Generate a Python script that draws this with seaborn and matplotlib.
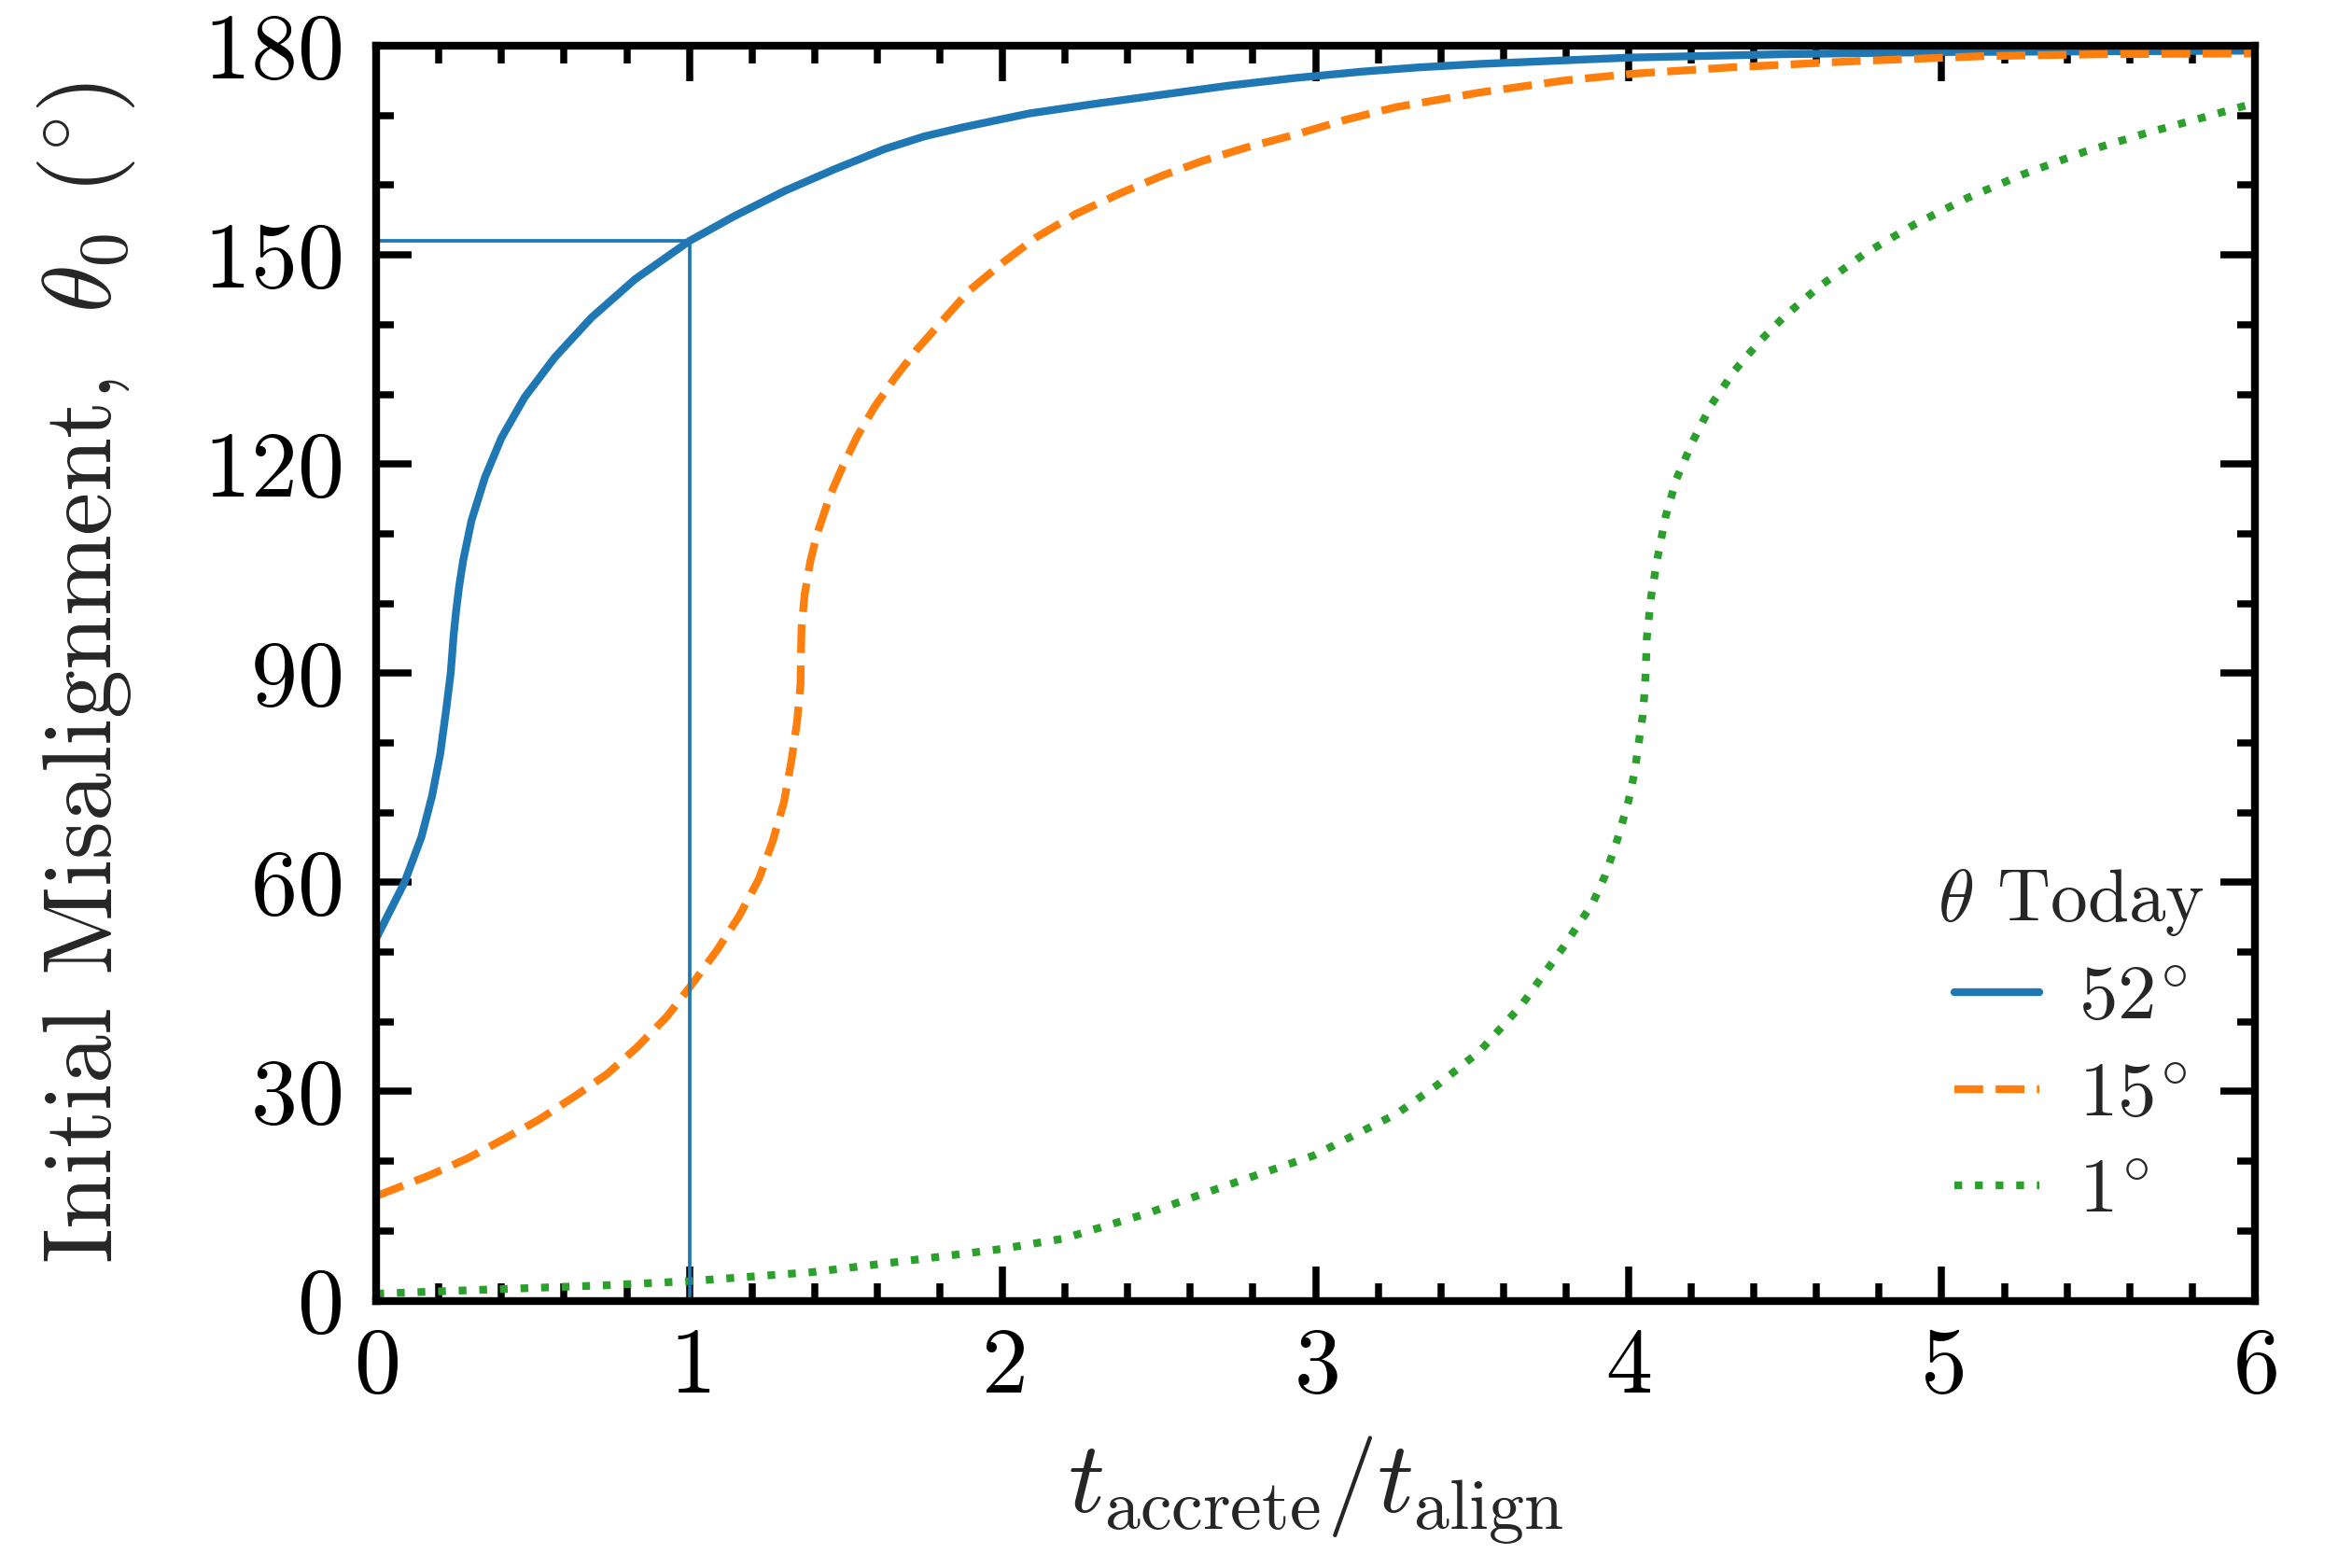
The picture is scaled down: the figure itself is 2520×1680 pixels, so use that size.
import matplotlib
matplotlib.use("Agg")
import matplotlib.pyplot as plt
import pandas as pd
import seaborn as sns
from matplotlib.ticker import MultipleLocator

# values
t_52 = [0.0, 0.045, 0.09, 0.144, 0.178, 0.204, 0.222, 0.232, 0.2375, 0.241,
        0.247, 0.255, 0.265, 0.2775, 0.304, 0.347, 0.400, 0.474, 0.570, 0.687,
        0.826, 1.0, 1.145, 1.305, 1.464, 1.624, 1.750, 1.873, 2.086, 2.299,
        2.512, 2.725, 2.938, 3.150, 3.329, 3.526, 4.0, 4.5, 5.0, 5.5, 6.0]
theta_52 = [52, 56, 60, 66.5, 72.4, 78.4, 84.4, 88.0, 90.0, 92.0,
            95.5, 99.0, 102.6, 106.2, 111.9, 118.1, 123.8, 129.6, 135.3, 141.0,
            146.5, 152.0, 155.6, 159.2, 162.3, 165.2, 167.0, 168.3, 170.3, 171.7,
            173.0, 174.3, 175.4, 176.3, 176.9, 177.4, 178.3, 178.8, 179.1, 179.2, 179.3]

t_15 = [0.0, 0.171, 0.291, 0.404, 0.517, 0.630, 0.737, 0.834, 0.929, 1.0,
        1.087, 1.158, 1.222, 1.266, 1.302, 1.326, 1.344, 1.355, 1.356, 1.358,
        1.368, 1.386, 1.408, 1.45, 1.49, 1.535, 1.59, 1.655, 1.724, 1.799,
        1.894, 2.001, 2.107, 2.235, 2.384, 2.512, 2.640, 2.778, 2.938, 3.097,
        3.257, 3.525, 3.791, 4.015, 4.325, 4.724, 5.123, 5.522, 6.0]
theta_15 = [15.0, 18.0, 20.4, 23.1, 25.9, 29.2, 32.5, 36.4, 40.8, 44.9,
            50.2, 55.1, 60.5, 65.9, 71.5, 77.5, 83.1, 88.5, 92.0, 96.5,
            101.3, 106.0, 110.0, 115.6, 119.7, 123.9, 128.1, 132.3, 136.3, 140.1,
            144.9, 148.9, 152.5, 155.9, 159.0, 161.4, 163.5, 165.4, 167.3, 169.4,
            171.2, 173.3, 175.0, 176.0, 176.9, 177.8, 178.5, 178.8, 178.9]

t_1 = [0.0, 0.331, 0.73, 1.0, 1.395, 1.728, 1.994, 2.195, 2.461, 2.727,
       2.993, 3.259, 3.391, 3.525, 3.658, 3.791, 3.885, 3.925, 3.965, 3.999,
       4.019, 4.032, 4.045, 4.052, 4.055, 4.058, 4.072, 4.092, 4.118, 4.152,
       4.205, 4.265, 4.338, 4.418, 4.498, 4.604, 4.751, 4.910, 5.083, 5.256,
       5.456, 5.655, 5.842, 6.0]
theta_1 = [1.0, 1.55, 2.2, 2.8, 4.1, 5.9, 7.4, 8.9, 12.5, 16.7,
           20.8, 26.8, 31.0, 35.8, 42.4, 50.7, 57.0, 61.0, 66.3, 71.6,
           75.8, 80.0, 84.0, 88.0, 91.0, 95.1, 101.1, 106.5, 112.5, 117.8,
           123.3, 128.6, 133.4, 137.6, 141.2, 145.3, 150.1, 154.3, 158.2, 161.5,
           164.8, 167.5, 169.8, 171.8]

labels = [r"$52^{\!\circ}$", r"$15^{\!\circ}$", r"$1^{\!\circ}$"]
colors = ["#1f77b4", "#ff7f0e", "#2ca02c"]
styles = ["-", "--", ":"]

# marked point on the 52 deg curve
ref_t = 1.0
ref_theta = 152.0

sns.set_theme(style="ticks")
plt.rcParams["font.family"] = "serif"
plt.rcParams["font.serif"] = ["cmr10"]
plt.rcParams["mathtext.fontset"] = "cm"
plt.rcParams["axes.formatter.use_mathtext"] = True
plt.rcParams["axes.unicode_minus"] = False

fig, ax = plt.subplots(figsize=(8.4, 5.6), dpi=300)
fig.subplots_adjust(left=0.160, right=0.9587, top=0.9708, bottom=0.1705)

series = [(t_52, theta_52), (t_15, theta_15), (t_1, theta_1)]
for (tt, th), lab, col, ls in zip(series, labels, colors, styles):
    df = pd.DataFrame({"t": tt, "theta": th})
    sns.lineplot(data=df, x="t", y="theta", ax=ax, color=col, linestyle=ls,
                 linewidth=2.0, label=lab, estimator=None, sort=False)

ax.hlines(ref_theta, 0, ref_t, color=colors[0], linewidth=0.9)
ax.vlines(ref_t, 0, ref_theta, color=colors[0], linewidth=0.9)

ax.set_xlim(0, 6)
ax.set_ylim(0, 180)
ax.xaxis.set_major_locator(MultipleLocator(1))
ax.xaxis.set_minor_locator(MultipleLocator(0.2))
ax.yaxis.set_major_locator(MultipleLocator(30))
ax.yaxis.set_minor_locator(MultipleLocator(10))

for s in ax.spines.values():
    s.set_linewidth(2.0)
    s.set_color("black")
ax.tick_params(which="both", direction="in", top=True, right=True,
               width=1.8, colors="black")
ax.tick_params(which="major", length=9, labelsize=24)
ax.tick_params(axis="x", which="major", pad=7)
ax.tick_params(axis="y", which="major", pad=9)
ax.tick_params(which="minor", length=4.5)

ax.set_xlabel(r"$t_{\rm accrete}/t_{\rm align}$", fontsize=26, labelpad=6)
ax.set_ylabel(r"Initial Misalignment, $\ \theta_0$ $(^{\!\circ}\!)$", fontsize=25,
              labelpad=17)

ax.legend(title=r"$\theta$ Today", loc="lower right", frameon=False,
          bbox_to_anchor=(0.9896, 0.0335), borderaxespad=0,
          fontsize=20, title_fontsize=19, handlelength=1.1,
          handletextpad=0.5, labelspacing=0.35)

fig.savefig("out.png", dpi=300)
